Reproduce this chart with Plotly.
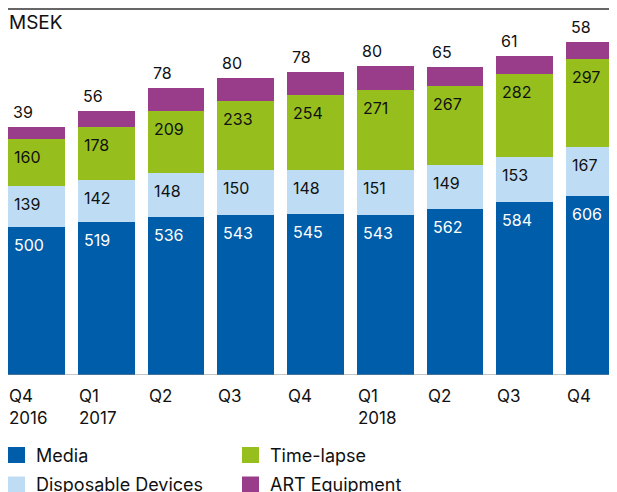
import plotly.graph_objects as go

quarters = ["Q4", "Q1", "Q2", "Q3", "Q4", "Q1", "Q2", "Q3", "Q4"]
years = ["2016", "2017", "", "", "", "2018", "", "", ""]
categories = ["Q4 2016", "Q1 2017", "Q2 2017", "Q3 2017", "Q4 2017",
              "Q1 2018", "Q2 2018", "Q3 2018", "Q4 2018"]
media = [500, 519, 536, 543, 545, 543, 562, 584, 606]
disposable = [139, 142, 148, 150, 148, 151, 149, 153, 167]
timelapse = [160, 178, 209, 233, 254, 271, 267, 282, 297]
art = [39, 56, 78, 80, 78, 80, 65, 61, 58]

series = [
    ("Media", media, "#005DA9", "white"),
    ("Disposable Devices", disposable, "#BEDDF5", "#111111"),
    ("Time-lapse", timelapse, "#96BF1D", "#111111"),
    ("ART Equipment", art, "#993D8A", "#111111"),
]

FONT = "Inter, Liberation Sans, Arial, sans-serif"
BARW = 0.817
SCALE = 0.2955  # px per MSEK
x_idx = list(range(len(categories)))

# the page body adds an 8px offset; the figure fills the rest of the window
OFF = 8
W, H = 617 - OFF, 492 - OFF
L, T, B = 0, 0, 117
pw, ph = W - L, H - T - B
BASE = OFF + T + ph  # baseline in window pixels

def px(xp):  # window x pixel -> paper
    return (xp - OFF - L) / pw
def py(yp):  # window y pixel -> paper
    return (BASE - yp) / ph

fig = go.Figure()
for name, vals, color, _ in series:
    fig.add_trace(go.Bar(x=x_idx, y=vals, name=name, marker_color=color,
                         marker_line_width=0, width=BARW, showlegend=False,
                         hoverinfo="name+y"))

annotations = []
cum = [0] * len(categories)
for si, (name, vals, color, tcolor) in enumerate(series):
    for i, v in enumerate(vals):
        cum[i] += v
        top = cum[i]
        if si < 3:
            annotations.append(dict(x=i - BARW / 2, y=top, xref="x", yref="y",
                                    text=str(v), showarrow=False,
                                    xanchor="left", yanchor="top",
                                    xshift=4, yshift=-6,
                                    font=dict(family=FONT, size=16, color=tcolor)))
        else:
            annotations.append(dict(x=i - BARW / 2, y=top, xref="x", yref="y",
                                    text=str(v), showarrow=False,
                                    xanchor="left", yanchor="bottom",
                                    xshift=3, yshift=3,
                                    font=dict(family=FONT, size=16, color="#111111")))

for i, (q, yr) in enumerate(zip(quarters, years)):
    annotations.append(dict(x=i - BARW / 2, y=0, xref="x", yref="y",
                            text=q, showarrow=False, xanchor="left", yanchor="top",
                            xshift=-1, yshift=-9,
                            font=dict(family=FONT, size=17, color="#111111")))
    if yr:
        annotations.append(dict(x=i - BARW / 2, y=0, xref="x", yref="y",
                                text=yr, showarrow=False, xanchor="left", yanchor="top",
                                xshift=-1, yshift=-31,
                                font=dict(family=FONT, size=17, color="#111111")))

annotations.append(dict(x=px(8), y=py(9), xref="paper", yref="paper", text="MSEK",
                        showarrow=False, xanchor="left", yanchor="top",
                        xshift=-1, yshift=0,
                        font=dict(family=FONT, size=19, color="#111111")))

# legend (manual, two columns)
shapes = []
leg_pos = [(8, 447), (8, 476.5), (242, 447), (242, 476.5)]
for (name, vals, color, _), (lx, ly) in zip(series, leg_pos):
    shapes.append(dict(type="rect", xref="paper", yref="paper",
                       x0=px(lx), x1=px(lx + 17), y0=py(ly), y1=py(ly + 16),
                       fillcolor=color, line=dict(width=0)))
    annotations.append(dict(x=px(lx + 26), y=py(ly + 8), xref="paper", yref="paper",
                            text=name, showarrow=False, xanchor="left",
                            yanchor="middle",
                            font=dict(family=FONT, size=18, color="#111111")))

# top rule and baseline
shapes.append(dict(type="line", xref="paper", yref="paper", x0=0, x1=1,
                   y0=py(9), y1=py(9), line=dict(color="#666666", width=2)))
shapes.append(dict(type="line", xref="paper", yref="y", x0=0, x1=1, y0=0, y1=0,
                   line=dict(color="#8a8a8a", width=1.2)))

fig.update_layout(
    width=W, height=H,
    margin=dict(l=L, r=0, t=T, b=B, pad=0),
    barmode="stack",
    bargap=0,
    paper_bgcolor="white", plot_bgcolor="white",
    xaxis=dict(range=[-BARW / 2, -BARW / 2 + pw / 69.75], showticklabels=False,
               showgrid=False, zeroline=False, showline=False, ticks="",
               fixedrange=True),
    yaxis=dict(range=[0, ph / SCALE], showticklabels=False, showgrid=False,
               zeroline=False, showline=False, ticks="", fixedrange=True),
    annotations=annotations,
    shapes=shapes,
    font=dict(family=FONT),
)

fig.write_html("out.html", config={"displayModeBar": False})
